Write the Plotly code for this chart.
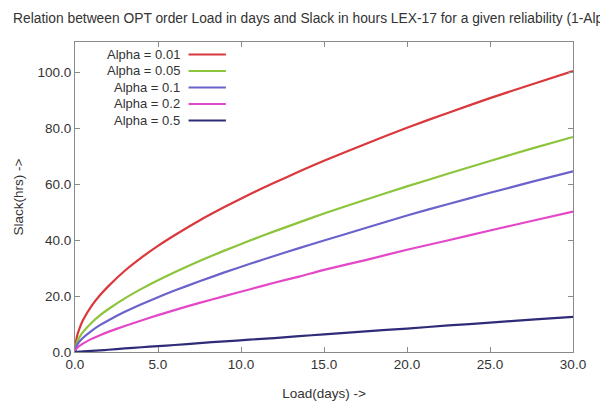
import plotly.graph_objects as go

# Load in days
load_days = [0, 0.1, 0.25, 0.5, 1, 1.5, 2, 3, 4, 5, 6, 7.5, 9, 10.5, 12, 13.5, 15, 17.5, 20, 22.5, 25, 27.5, 30]

# Slack in hours for each alpha
slack_a001 = [0, 5.1, 8.1, 11.6, 16.5, 20.3, 23.5, 29.1, 33.8, 38.0, 41.8, 47.1, 51.9, 56.4, 60.6, 64.6, 68.5, 74.5, 80.3, 85.7, 90.9, 95.8, 100.6]
slack_a005 = [0, 3.1, 5.1, 7.3, 10.5, 13.1, 15.3, 19.2, 22.6, 25.7, 28.6, 32.6, 36.3, 39.8, 43.2, 46.4, 49.6, 54.5, 59.3, 63.9, 68.4, 72.8, 77.0]
slack_a01 = [0, 2.2, 3.6, 5.2, 7.6, 9.6, 11.3, 14.4, 17.1, 19.6, 22.0, 25.3, 28.5, 31.5, 34.4, 37.2, 39.9, 44.4, 48.9, 53.0, 57.0, 60.9, 64.7]
slack_a02 = [0, 1.3, 2.1, 3.1, 4.7, 6.0, 7.2, 9.3, 11.3, 13.2, 15.0, 17.6, 20.0, 22.4, 24.8, 27.0, 29.4, 32.9, 36.6, 40.0, 43.5, 46.9, 50.3]
slack_a05 = [0, 0.05, 0.1, 0.2, 0.4, 0.6, 0.8, 1.3, 1.7, 2.1, 2.5, 3.2, 3.8, 4.4, 5.0, 5.7, 6.3, 7.4, 8.4, 9.5, 10.5, 11.6, 12.6]

series_names = ["Alpha = 0.01", "Alpha = 0.05", "Alpha = 0.1", "Alpha = 0.2", "Alpha = 0.5"]
series_values = [slack_a001, slack_a005, slack_a01, slack_a02, slack_a05]
colors = ["#da383c", "#8cc43c", "#6b63cc", "#e448c8", "#2e2c78"]

x_ticks = [0, 5, 10, 15, 20, 25, 30]
y_ticks = [0, 20, 40, 60, 80, 100]

FONT = "Liberation Sans, Arial, sans-serif"
TXT = "#333333"

fig = go.Figure()
for name, vals, col in zip(series_names, series_values, colors):
    fig.add_trace(go.Scatter(
        x=load_days, y=vals, mode="lines", name=name,
        line=dict(color=col, width=2.2, shape="spline", smoothing=0.5),
        showlegend=False,
    ))

# custom legend: right-aligned text, line sample to the right
row_y = [0.9597, 0.9065, 0.8532, 0.80, 0.7468]
for name, col, yy in zip(series_names, colors, row_y):
    fig.add_annotation(x=0.2139, y=yy, xref="paper", yref="paper", text=name,
                       showarrow=False, xanchor="right", yanchor="middle",
                       font=dict(family=FONT, size=13, color=TXT))
    fig.add_shape(type="line", xref="paper", yref="paper",
                  x0=0.228, x1=0.303, y0=yy, y1=yy,
                  line=dict(color=col, width=2.2))

axis_common = dict(
    showgrid=False, zeroline=False, showline=True, linecolor="#8a8a8a", linewidth=1,
    mirror="ticks", ticks="inside", ticklen=5, tickcolor="#8a8a8a",
    tickfont=dict(family=FONT, size=13.5, color=TXT),
    tickformat=".1f", automargin=False,
)

fig.update_layout(
    width=600, height=404,
    margin=dict(l=75, r=27, t=42, b=52),
    paper_bgcolor="white", plot_bgcolor="white",
    title=dict(text="Relation between OPT order Load in days and Slack in hours LEX-17 for a given reliability (1-Alpha)",
               x=0.0217, xref="container", xanchor="left",
               y=0.955, yref="container", yanchor="middle",
               font=dict(family=FONT, size=13.8, color=TXT)),
    xaxis=dict(range=[0, 30], tickvals=x_ticks,
               title=dict(text="Load(days) ->", standoff=17,
                          font=dict(family=FONT, size=13.5, color=TXT)),
               **axis_common),
    yaxis=dict(range=[0, 111], tickvals=y_ticks,
               title=dict(text="Slack(hrs) ->", standoff=10,
                          font=dict(family=FONT, size=13.5, color=TXT)),
               **axis_common),
)

fig.write_html("out.html")
